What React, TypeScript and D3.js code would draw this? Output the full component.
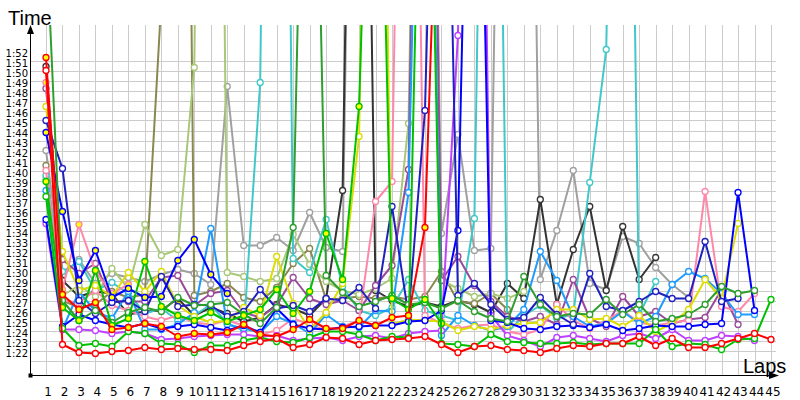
import React from "react";
import * as d3 from "d3";

// Lap categories (x axis tick labels)
const lapLabels = ["1","2","3","4","5","6","7","8","9","10","11","12","13","14","15","16","17","18","19","20","21","22","23","24","25","26","27","28","29","30","31","32","33","34","35","36","37","38","39","40","41","42","43","44","45"];

// Time ticks in seconds (1:22 .. 1:52)
const timeTicks = [82,83,84,85,86,87,88,89,90,91,92,93,94,95,96,97,98,99,100,101,102,103,104,105,106,107,108,109,110,111,112];

// Lap times in seconds per lap (null = no value); values above the chart are pit / slow laps
const grayTimes = [103.0,90.5,92.1,89.7,90.7,90.3,89.9,90.6,91.1,90.7,89.6,109.4,93.5,93.5,94.3,93.0,96.8,93.3,92.9,200,200,200,200,200,94.7,104.6,93.0,93.2,200,200,90.1,95.0,101.0,89.7,89.1,94.4,93.7,91.3,89.6,88.3];
const darkGrayTimes = [111.4,90.0,88.4,88.9,88.7,86.6,86.9,87.0,88.2,86.5,87.3,86.7,85.9,86.3,87.6,87.2,86.5,88.2,99.0,200,89.0,88.0,87.4,87.8,87.4,88.0,87.6,86.8,89.7,88.2,98.1,87.6,93.1,97.4,89.0,95.4,90.1,92.3];
const oliveTimes = [101.5,88.0,87.3,87.6,88.9,88.3,88.6,118.0,250,88.5,88.9,89.7,88.3,87.9,89.3,91.7,93.2,88.1,88.2,88.4,88.2,88.4,88.1,88.4,90.9,87.9,87.7,88.7,87.1];
const lightOliveTimes = [100.2,88.5,89.5,88.4,91.2,89.2,95.6,92.5,93.1,111.3,250,90.8,90.4,89.9,90.2,94.6,91.6,89.9,89.0,88.6,89.2,90.2,105.7,200,90.0,89.2,88.4,88.7,88.2,88.9];
const turquoiseTimes = [100.5,90.9,91.9,89.0,89.8,88.7,86.7,87.2,86.0,86.5,87.6,85.7,85.0,109.8,250,92.2,90.8,96.1,89.4,87.0,86.5,87.3,90.1,87.0,86.5,86.0,96.2,200,84.8,86.5,87.5,86.2,86.6,99.8,113.1,200,86.6,89.9];
const purpleTimes = [109.2,92.1,90.7,91.7,87.9,87.9,87.9,90.3,90.5,87.5,88.7,89.0,86.8,86.3,87.5,90.3,88.2,87.6,88.0,87.0,89.5,91.5,101.1,200,90.0,92.4,89.5,87.9,86.4,85.9,86.4,85.6,90.1,86.2,85.4,88.4,86.4,86.9,85.7,86.1,86.3,89.1,85.6];
const pinkYellowTimes = [109.8,89.1,95.6,90.9,88.7,89.6];
const pinkTimes = [101.0,88.0,87.8,89.0,87.5,87.0,86.4,86.0,86.5,85.8,85.6,86.0,85.5,84.6,85.0,86.2,85.6,85.0,85.4,86.0,97.9,99.9,200,86.5,85.7,85.2,85.5,85.6,84.9,84.6,85.1,87.6,86.0,85.2,86.0,87.0,85.8,85.5,85.8,86.0,98.9,87.4,86.9,88.7];
const lightBlueTimes = [99.0,85.1,88.9,86.9,86.2,88.9,85.1,85.1,85.6,86.8,95.2,85.6,85.2,84.8,86.4,85.7,84.7,86.6,85.4,85.3,87.0,86.9,98.8,170,84.5,86.5,85.5,85.0,85.4,87.1,92.9,90.0,86.4,85.4,85.7,86.9,85.7,86.4,89.6,90.9,90.2,88.7,86.6,86.6];
const yellowTimes = [107.4,92.9,89.0,89.5,88.4,90.8,88.9,90.9,87.5,86.4,85.8,86.0,87.3,86.5,92.4,87.7,85.1,86.8,89.7,104.4,200,85.6,86.1,86.0,85.9,85.0,85.4,85.1,85.5,85.7,85.8,87.1,87.1,86.1,86.2,85.4,86.5,84.9,85.7,87.1,90.1,88.2,95.7];
const violetTimes = [95.7,85.1,85.1,85.0,84.7,84.9,84.7,84.1,84.2,84.4,84.5,84.6,84.6,84.4,84.5,84.0,84.2,84.3,84.0,84.4,84.5,84.2,84.7,84.9,85.0,114.5,200,86.5,84.5,84.0,83.4,84.3,84.5,84.2,83.9,84.5,84.7,84.2,85.1,84.0,84.0,84.5,84.4,84.0];
const blueTimes = [96.1,85.4,86.6,86.0,85.6,85.3,85.7,85.2,85.4,85.6,85.3,85.0,85.5,84.8,87.2,85.6,85.2,85.1,85.3,85.4,85.5,85.5,85.9,86.0,87.0,95.0,170,86.0,85.8,85.2,85.1,85.4,85.5,85.3,85.6,85.0,85.2,85.5,85.4,85.4,85.6,85.7,98.8,87.0];
const navyTimes = [106.0,101.2,88.0,86.7,87.8,88.0,86.9,90.4,87.4,87.6,87.5,86.4,86.9,89.1,87.2,87.5,86.9,88.2,88.0,89.3,87.2,97.4,86.5,107.0,170,88.5,89.7,87.6,86.1,86.3,88.3,86.6,85.6,90.7,87.4,87.0,87.9,88.9,88.2,88.2,93.9,87.9,88.2];
const blueYellowTimes = [104.8,96.9,90.0,93.0,88.3,89.2,88.3,88.4,92.0,94.1,90.6,88.7];
const darkGreenTimes = [125,88.0,86.0,87.0,85.8,86.8,87.3,86.9,88.3,87.5,87.6,87.8,86.6,85.7,87.3,95.3,170,90.5,88.8,87.4,87.9,88.5,87.6,87.8,87.2,88.0,86.9,86.2,85.9,90.4,87.6,86.4,86.7,86.6,88.1,86.6,87.6,85.9,86.2,86.6,87.6,89.4,88.7,89.0];
const greenYellowTimes = [99.9,87.3,86.0,91.0,85.5,86.2,91.9,87.4,86.5,86.0,86.8,85.9,86.5,87.1,89.1,86.7,88.9,94.7,90.1,107.4,160,88.2,87.1,88.1,85.7];
const greenTimes = [98.4,85.2,83.5,83.7,83.4,84.9,84.7,83.7,83.6,82.8,83.5,83.5,84.0,84.3,83.9,83.8,84.3,84.9,84.9,84.6,84.0,84.4,84.3,160,83.7,83.6,83.4,84.6,83.9,83.8,83.7,83.7,83.8,83.6,83.7,83.7,83.7,85.1,83.4,83.7,83.6,83.1,84.1,84.2,88.1];
const redYellowTimes = [112.3,88.6,87.1,87.8,85.1,85.3,85.7,85.4,84.4,84.7,84.6,84.8,85.6,84.6,84.4,85.1,86.1,85.2,85.2,86.0,85.5,86.3,86.5,95.3,145];
const redTimes = [111.0,83.6,82.8,82.7,82.9,83.0,83.3,83.1,83.2,83.1,83.1,83.0,83.5,83.9,84.2,83.3,83.6,84.3,84.2,83.6,84.0,84.1,84.2,84.4,83.6,82.8,83.4,83.5,83.1,83.0,82.8,83.2,83.5,83.4,83.7,83.7,84.4,83.5,84.2,83.3,83.3,83.7,84.2,84.7,84.1];

const series = [
  { values: grayTimes, color: "#a0a0a0", fill: "#ffffff" },
  { values: darkGrayTimes, color: "#333333", fill: "#ffffff" },
  { values: oliveTimes, color: "#888850", fill: "#ffffff" },
  { values: lightOliveTimes, color: "#a8c878", fill: "#ffffff" },
  { values: turquoiseTimes, color: "#40c8c8", fill: "#ffffff" },
  { values: purpleTimes, color: "#9a4a9a", fill: "#ffffff" },
  { values: pinkYellowTimes, color: "#ff88aa", fill: "#ffff00" },
  { values: pinkTimes, color: "#ff88aa", fill: "#ffffff" },
  { values: lightBlueTimes, color: "#1e9bff", fill: "#ffffff" },
  { values: yellowTimes, color: "#dddd00", fill: "#ffffff" },
  { values: violetTimes, color: "#c040ff", fill: "#ffffff" },
  { values: blueTimes, color: "#0000ff", fill: "#ffffff" },
  { values: navyTimes, color: "#2020c0", fill: "#ffffff" },
  { values: blueYellowTimes, color: "#0000ff", fill: "#ffff00" },
  { values: darkGreenTimes, color: "#2e9e2e", fill: "#ffffff" },
  { values: greenYellowTimes, color: "#00c000", fill: "#ffff00" },
  { values: greenTimes, color: "#00c000", fill: "#ffffff" },
  { values: redYellowTimes, color: "#ff0000", fill: "#ffff00" },
  { values: redTimes, color: "#ff0000", fill: "#ffffff" },
];

const fmt = (v: number) => `${Math.floor(v / 60)}:${String(v % 60).padStart(2, "0")}`;

export default function App() {
  const W = 800, H = 400;
  const x = d3.scaleLinear().domain([1, 45]).range([46, 771]);
  const y = d3.scaleLinear().domain([82, 112]).range([360.5, 60.5]);
  const px = (i: number) => x(i + 1);
  const line = d3
    .line<number | null>()
    .defined((d) => d != null)
    .x((_, i) => px(i))
    .y((d) => y(d as number));

  const axisX = 30.5, axisY = 375.5;
  const plotTop = 25, plotRight = 776;

  return (
    <svg width={W} height={H} style={{ position: "absolute", left: 0, top: 0, background: "#fff" }}
      fontFamily="DejaVu Sans, sans-serif">
      <defs>
        <clipPath id="plot">
          <rect x={axisX} y={plotTop} width={plotRight + 6 - axisX} height={axisY - plotTop} />
        </clipPath>
      </defs>
      {/* grid */}
      <g stroke="#cccccc" strokeWidth={1}>
        {lapLabels.map((l, i) => (
          <line key={"v" + l} x1={Math.round(px(i)) + 0.5} x2={Math.round(px(i)) + 0.5} y1={plotTop} y2={axisY} />
        ))}
        {timeTicks.map((t) => (
          <line key={"h" + t} x1={axisX} x2={plotRight} y1={Math.round(y(t)) + 0.5} y2={Math.round(y(t)) + 0.5} />
        ))}
      </g>
      {/* series */}
      <g clipPath="url(#plot)">
        {series.map((s, si) => (
          <g key={si}>
            <path d={line(s.values) || ""} fill="none" stroke={s.color} strokeWidth={2} strokeLinejoin="round" />
            {s.values.map((v, i) =>
              v == null ? null : (
                <circle key={i} cx={px(i)} cy={y(v)} r={3} fill={s.fill} stroke={s.color} strokeWidth={1.3} />
              )
            )}
          </g>
        ))}
      </g>
      {/* axes */}
      <line x1={axisX} x2={axisX} y1={plotTop + 4} y2={axisY} stroke="#000" strokeWidth={1} />
      <path d={`M${axisX},${plotTop} L${axisX - 3.5},${plotTop + 9} L${axisX + 3.5},${plotTop + 9} Z`} fill="#000" />
      <line x1={axisX} x2={776} y1={axisY} y2={axisY} stroke="#000" strokeWidth={1} />
      <path d={`M779,${axisY} L769,${axisY - 3.5} L769,${axisY + 3.5} Z`} fill="#000" />
      <rect x={axisX - 2} y={axisY - 2} width={4} height={4} fill="#000" />
      {/* tick labels */}
      {timeTicks.map((t) => (
        <text key={"yl" + t} x={28} y={y(t) - 3.5} textAnchor="end" fontSize={10} fill="#000">{fmt(t)}</text>
      ))}
      {lapLabels.map((l, i) => (
        <text key={"xl" + l} x={px(i) + 2} y={396} textAnchor="middle" fontSize={12} fill="#000">{l}</text>
      ))}
      <text x={8} y={25} fontSize={20} fontFamily="Liberation Sans, Arial, sans-serif" fill="#000">Time</text>
      <text x={743} y={373} fontSize={20} fontFamily="Liberation Sans, Arial, sans-serif" fill="#000">Laps</text>
    </svg>
  );
}
